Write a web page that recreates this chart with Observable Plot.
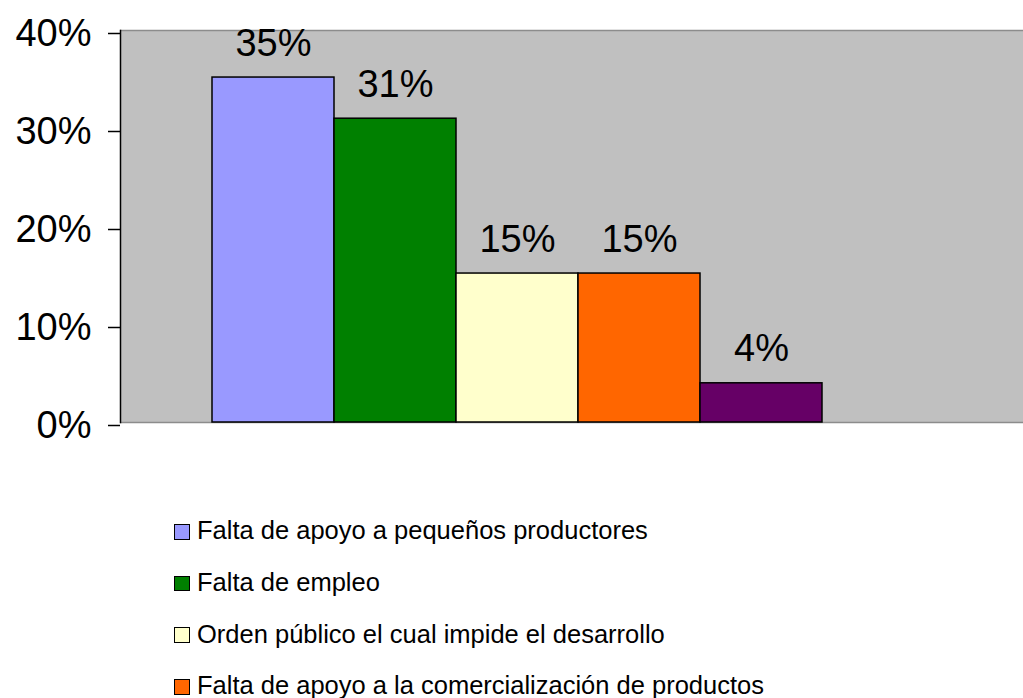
<!DOCTYPE html>
<html>
<head>
<meta charset="utf-8">
<script src="https://cdn.jsdelivr.net/npm/d3@7"></script>
<script src="https://cdn.jsdelivr.net/npm/@observablehq/plot@0.6"></script>
<style>
  html, body { margin: 0; padding: 0; background: #fff; overflow: hidden; }
  body { width: 1023px; height: 698px; font-family: "Liberation Sans", Arial, sans-serif; }
  #legend { padding-top: 57px; padding-left: 174px; }
  .row { height: 51.7px; display: flex; align-items: center; font-size: 25.5px; color: #000; }
  .sw { width: 13.5px; height: 13.5px; border: 1.5px solid #000; margin-right: 7.5px; margin-top: 2px; }
</style>
</head>
<body>
<div id="chart"></div>
<div id="legend"></div>
<script>
const categories = [
  "Falta de apoyo a pequeños productores",
  "Falta de empleo",
  "Orden público el cual impide el desarrollo",
  "Falta de apoyo a la comercialización de productos",
  "Otros"
];
const values = [0.352, 0.31, 0.152, 0.152, 0.04];
const valueLabels = ["35%", "31%", "15%", "15%", "4%"];
const colors = ["#9999FF", "#008000", "#FFFFCC", "#FF6600", "#660066"];
const yTicks = [0, 0.1, 0.2, 0.3, 0.4];

const data = categories.map((c, i) => ({cat: c, value: values[i], label: valueLabels[i]}));

const chart = Plot.plot({
  width: 1023,
  height: 448,
  marginTop: 30,
  marginBottom: 26,
  marginLeft: 120,
  marginRight: 0,
  style: {fontFamily: "'Liberation Sans', Arial, sans-serif", background: "#fff", color: "#000"},
  x: {domain: categories, range: [210, 823], padding: 0, axis: null},
  y: {domain: [0, 0.4], ticks: yTicks, label: null},
  color: {domain: categories, range: colors},
  marks: [
    Plot.frame({fill: "#C0C0C0", stroke: null}),
    Plot.ruleY([0, 0.4], {stroke: "#8c8c8c", strokeWidth: 1.5}),
    Plot.barY(data, {x: "cat", y: "value", fill: "cat", stroke: "#000", strokeWidth: 1.5}),
    Plot.text(data, {x: "cat", y: "value", text: "label", dy: -34, lineAnchor: "middle", fontSize: 38, fill: "#000"}),
    Plot.axisY({ticks: yTicks, tickFormat: d => Math.round(d * 100) + "%", tickSize: 12, tickPadding: 17, fontSize: 38, dy: 3, label: null, stroke: "#000", strokeWidth: 1.5}),
    Plot.frame({anchor: "left", stroke: "#000", strokeWidth: 1.5})
  ]
});
document.getElementById("chart").appendChild(chart);

const legend = document.getElementById("legend");
categories.forEach((c, i) => {
  const row = document.createElement("div");
  row.className = "row";
  const sw = document.createElement("div");
  sw.className = "sw";
  sw.style.background = colors[i];
  const t = document.createElement("span");
  t.textContent = c;
  row.appendChild(sw);
  row.appendChild(t);
  legend.appendChild(row);
});
</script>
</body>
</html>
